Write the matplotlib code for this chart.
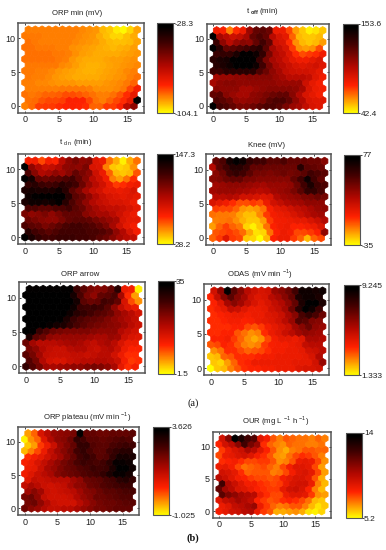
import matplotlib
matplotlib.use("Agg")
import matplotlib.pyplot as plt
from matplotlib.collections import PolyCollection
from matplotlib.colors import LinearSegmentedColormap
import numpy as np

plt.rcParams['font.family'] = ['Liberation Sans', 'DejaVu Sans']
plt.rcParams['mathtext.fontset'] = 'custom'
plt.rcParams['mathtext.rm'] = 'Liberation Sans'
plt.rcParams['mathtext.bf'] = 'Liberation Sans:bold'

W, H = 386, 550

# Component planes: 0 (yellow) .. 100 (black); rows listed top to bottom, 17 columns, 14 rows
orp_min = [
 [18,18,18,18,18,18,18,18,17,16,15,10,8,3,1,6,13],
 [19,19,19,18,18,18,18,18,17,16,15,12,9,6,6,9,12],
 [20,19,18,18,18,18,18,17,16,15,14,12,10,9,9,10,13],
 [20,20,19,19,19,18,18,16,15,14,13,12,11,10,11,12,14],
 [20,20,20,20,19,19,18,16,14,13,12,12,12,12,13,14,15],
 [20,20,20,20,20,19,18,15,13,12,12,12,13,14,14,15,16],
 [19,19,19,19,19,17,16,14,12,11,11,12,13,14,15,16,17],
 [19,19,18,18,17,15,14,13,12,11,11,12,13,14,15,17,18],
 [19,18,18,17,15,14,13,12,12,12,12,13,14,15,16,18,20],
 [18,18,17,17,16,15,15,15,14,14,14,14,15,16,17,19,22],
 [18,18,18,18,18,19,19,19,19,18,16,16,16,17,19,26,34],
 [20,19,20,22,22,23,25,25,24,22,20,18,18,20,24,30,38],
 [20,21,24,26,26,27,32,32,32,26,20,18,22,26,30,38,98],
 [18,21,27,28,28,30,31,32,31,30,22,22,28,27,32,50,60],
]
t_off = [
 [35,33,18,30,36,58,70,72,68,36,36,26,14,8,2,4,8],
 [98,55,50,45,48,55,70,75,70,50,42,38,22,10,8,8,10],
 [80,60,50,58,62,60,70,78,70,45,42,30,16,10,8,10,14],
 [98,85,70,72,75,78,82,85,72,55,48,42,28,16,14,16,25],
 [80,82,82,88,95,95,92,82,65,52,48,40,30,25,28,30,35],
 [85,88,90,95,98,97,95,80,65,55,50,44,38,35,35,38,42],
 [85,88,92,96,98,96,92,78,65,55,50,46,42,40,42,44,40],
 [80,80,85,85,85,85,85,75,68,60,55,48,45,44,44,42,38],
 [55,58,58,60,60,62,62,62,62,58,55,50,50,50,48,40,35],
 [55,60,62,62,60,60,60,60,60,60,58,58,58,58,45,38,34],
 [62,60,60,60,55,55,58,60,62,62,62,62,60,55,42,36,34],
 [70,72,62,58,55,55,60,62,65,68,70,70,62,52,42,38,34],
 [75,72,68,60,58,60,62,65,72,75,75,70,60,52,42,40,40],
 [98,78,75,70,65,65,68,72,75,75,72,65,58,55,48,42,40],
]
t_dn = [
 [34,35,26,34,32,50,60,65,60,62,40,36,20,12,2,12,20],
 [98,60,52,46,48,52,60,62,60,65,42,40,18,8,6,8,16],
 [75,62,52,55,60,56,62,70,65,60,45,36,22,10,8,10,24],
 [98,90,70,68,70,72,75,78,70,62,50,44,35,18,14,20,30],
 [82,85,80,78,80,85,82,78,68,58,50,44,36,28,30,34,36],
 [88,90,88,88,88,92,85,72,65,55,48,44,38,38,36,38,42],
 [92,95,98,98,98,98,85,72,68,60,52,46,42,40,38,40,38],
 [88,92,92,90,92,95,85,75,68,60,52,48,45,42,42,40,36],
 [75,75,72,72,75,75,78,72,68,60,55,50,48,48,45,42,38],
 [65,60,62,65,60,65,70,70,70,62,58,55,55,50,45,40,36],
 [68,65,62,60,60,65,70,72,72,70,66,62,58,55,42,38,38],
 [75,72,70,65,68,72,76,78,78,76,74,70,65,55,45,38,34],
 [85,78,75,72,75,78,78,78,78,76,76,74,70,60,52,42,34],
 [98,88,82,78,78,80,80,80,78,78,76,72,68,62,55,50,48],
]
knee = [
 [70,75,90,95,92,82,78,78,72,72,75,70,70,70,68,68,62],
 [52,72,78,85,85,80,70,70,68,68,68,68,68,85,72,70,68],
 [62,68,78,82,78,72,66,66,64,66,68,66,68,72,78,75,72],
 [62,64,68,70,70,65,64,62,62,62,62,62,70,78,92,78,70],
 [56,58,60,60,60,58,56,55,58,58,58,60,68,78,88,78,75],
 [56,58,58,58,56,55,52,50,52,56,58,60,65,72,82,82,76],
 [50,50,52,50,44,44,42,40,42,52,56,58,60,64,65,68,66],
 [42,38,35,30,25,25,28,26,36,44,48,52,55,56,60,60,60],
 [27,26,26,22,15,13,15,20,33,38,40,44,48,50,54,58,60],
 [20,19,19,18,13,9,9,17,28,34,36,38,42,46,50,54,56],
 [18,19,20,16,11,8,8,14,28,34,35,36,38,38,42,46,52],
 [14,22,27,22,19,6,2,8,20,32,35,36,32,32,34,36,42],
 [24,26,28,25,21,12,4,6,20,32,36,34,26,26,28,32,60],
 [22,28,40,28,26,8,6,0,10,32,36,36,28,22,10,22,26],
]
orp_arrow = [
 [95,95,95,95,95,95,95,80,72,65,62,64,70,85,36,34,2],
 [98,98,98,98,98,98,98,90,76,65,60,70,72,76,55,30,14],
 [98,98,98,98,98,98,98,90,72,68,70,78,76,70,42,25,16],
 [98,98,98,98,98,98,98,92,80,78,80,78,72,60,48,40,36],
 [98,98,98,98,98,98,92,85,82,78,74,72,68,60,55,50,44],
 [98,98,98,98,98,95,88,80,75,72,70,68,64,60,56,52,48],
 [98,98,98,94,90,88,82,76,72,68,66,64,62,60,56,50,46],
 [98,95,80,74,68,66,64,64,64,64,62,60,60,60,52,48,44],
 [88,72,68,60,58,58,58,58,58,56,54,54,58,56,46,42,40],
 [68,56,50,50,50,52,54,56,54,50,48,52,55,50,42,36,36],
 [65,60,52,48,46,46,50,52,52,48,46,50,52,46,36,32,32],
 [72,66,56,48,46,46,46,48,48,46,48,50,50,44,36,30,30],
 [74,66,52,44,42,42,46,48,50,50,52,52,50,46,34,28,30],
 [82,74,66,56,54,56,58,60,60,64,66,64,60,54,38,30,34],
]
odas = [
 [44,60,95,72,62,50,45,42,44,58,62,68,78,92,92,90,92],
 [32,48,62,72,62,55,45,40,42,50,55,62,70,88,92,92,88],
 [32,40,55,62,56,48,42,38,42,48,52,60,70,88,96,96,88],
 [30,34,38,48,46,40,36,36,38,44,48,55,68,85,96,92,80],
 [30,32,34,36,36,34,36,36,40,42,46,54,62,76,82,76,68],
 [30,30,32,34,34,32,33,36,38,40,44,50,58,74,72,64,62],
 [30,30,30,32,32,26,24,28,34,38,42,46,56,62,68,60,58],
 [30,30,32,32,24,20,16,18,30,36,40,46,50,56,60,58,56],
 [32,32,34,28,22,16,12,16,26,34,38,38,36,40,54,54,52],
 [24,26,32,30,24,18,16,18,28,33,34,34,36,38,48,50,50],
 [16,20,30,30,26,22,24,26,30,34,34,36,36,38,44,46,50],
 [8,10,22,24,30,30,30,32,34,34,36,36,36,36,38,42,52],
 [8,6,14,22,30,32,36,36,36,36,36,36,38,38,38,44,58],
 [0,8,10,18,24,30,32,32,34,34,36,36,36,40,42,42,44],
]
orp_plateau = [
 [14,22,42,50,58,60,62,66,95,70,70,68,68,70,70,70,72],
 [2,16,22,40,52,60,62,68,82,78,72,72,70,72,74,76,74],
 [8,14,28,36,46,58,64,70,82,82,74,72,72,76,78,80,78],
 [10,18,26,36,48,56,62,68,78,82,76,72,72,78,82,85,85],
 [30,34,38,44,50,56,64,70,78,82,78,72,74,82,90,90,88],
 [33,36,42,48,54,60,66,70,76,80,78,76,78,84,94,94,92],
 [36,38,46,54,58,64,68,70,74,76,80,78,80,88,96,96,92],
 [35,40,46,50,54,62,66,68,70,74,76,78,82,88,94,94,90],
 [40,48,46,48,50,50,50,56,60,68,70,72,76,78,84,86,82],
 [48,54,50,46,44,46,48,54,60,62,68,70,74,76,78,80,80],
 [56,62,56,46,44,46,48,50,56,62,64,68,72,72,74,76,76],
 [66,68,60,48,44,44,44,46,52,58,62,68,68,70,72,74,74],
 [66,68,60,52,46,44,44,44,50,56,62,66,68,68,70,72,72],
 [68,62,58,52,48,48,50,50,54,58,62,66,66,68,70,70,70],
]
our = [
 [44,62,98,88,78,74,40,34,24,18,24,22,20,20,18,22,18],
 [32,44,50,62,78,66,58,30,22,18,16,22,20,20,18,18,20],
 [28,36,42,46,54,50,40,32,24,16,12,18,20,24,24,22,22],
 [26,36,38,42,44,40,34,30,24,16,14,20,26,30,28,24,18],
 [30,32,34,30,26,26,28,28,24,16,18,24,36,38,36,26,16],
 [36,38,34,26,20,22,24,26,22,18,26,34,40,40,38,26,14],
 [44,42,38,30,22,24,24,24,18,20,26,34,40,42,38,26,14],
 [50,46,40,34,32,28,26,26,24,26,34,38,42,42,38,24,12],
 [78,52,46,40,34,34,30,28,26,28,36,42,44,44,36,18,10],
 [70,56,50,42,40,36,32,30,28,28,38,44,46,42,32,18,10],
 [72,64,60,55,52,50,36,30,26,26,36,40,40,38,28,16,14],
 [40,48,50,56,52,48,32,28,24,26,30,32,30,26,20,10,8],
 [36,40,48,50,54,58,36,28,22,18,20,24,24,18,10,4,8],
 [34,38,44,46,50,52,36,28,24,12,12,14,16,12,4,2,6],
]

planes = [orp_min, t_off, t_dn, knee, orp_arrow, odas, orp_plateau, our]
titles = ["ORP min (mV)", r"$\mathrm{t}_{\ \mathbf{off}}$ (min)", r"$\mathrm{t}_{\ \mathrm{d\ n}}$ (min)", "Knee (mV)",
          "ORP arrow", r"ODAS (mV min $^{-1}$)", r"ORP plateau (mV min $^{-1}$)", r"OUR (mg L $^{-1}$ h $^{-1}$)"]
cb_top = ["-28.3", "153.6", "147.3", "77", "35", "9.245", "3.626", "14"]
cb_bot = ["-104.1", "42.4", "28.2", "-35", "1.5", "1.333", "-1.025", "5.2"]

# pixel boxes: left, right, top, bottom
ax_boxes = [(18.3,144,23,112.7),(206.7,329.3,23.7,112.7),(18.3,143.7,154,244),(206,331.3,154.3,244.7),
            (19.3,145.3,282.3,373.3),(204,329.3,284,375),(18.3,139,426.7,515),(212.7,331.3,432,517.7)]
cb_boxes = [(156.7,172.7,23,113),(342.7,358.3,24,113),(156.7,172.7,154.3,244.3),(344.3,360,154.7,245),
            (158,174,281.3,373.7),(344,359.3,285,375.3),(153.3,169.3,426.7,515.3),(345.7,362,432.7,518.3)]
title_y = [13.5, 11.5, 143, 145.5, 274, 274.5, 417, 421]
title_x = [77, 262, 76, 267, 80, 260, 87, 276]

cmap = LinearSegmentedColormap.from_list("rhot", [(0,(1,1,0)),(0.15,(1,0.58,0)),(0.31,(1,0.13,0)),
                                                  (0.52,(0.7,0.03,0)),(0.78,(0.25,0,0)),(0.96,(0,0,0)),(1,(0,0,0))])

def rect(b):
    l, r, t, bt = b
    return [l/W, 1-bt/H, (r-l)/W, (bt-t)/H]

fig = plt.figure(figsize=(W/100, H/100), dpi=100)
GRAY = "#555555"

hx = np.array([0.5,0.5,0,-0.5,-0.5,0])
hy = np.array([-0.2887,0.2887,0.5774,0.2887,-0.2887,-0.5774])

for i, plane in enumerate(planes):
    ax = fig.add_axes(rect(ax_boxes[i]))
    arr = np.array(plane, dtype=float)[::-1]
    polys, vals = [], []
    for row in range(arr.shape[0]):
        for col in range(arr.shape[1]):
            cx = col + (0.5 if row % 2 else 0)
            cy = row*0.866
            polys.append(np.column_stack([cx+hx, cy+hy]))
            vals.append(arr[row, col])
    pc = PolyCollection(polys, array=np.array(vals), cmap=cmap, edgecolors='face', linewidths=0.55)
    pc.set_clim(0, 100)
    ax.add_collection(pc)
    ax.set_xlim(-1, 17.5)
    ax.set_ylim(-1, 12.26)
    ax.set_xticks([0,5,10,15])
    ax.set_yticks([0,5,10])
    ax.tick_params(direction='in', length=1.5, width=0.6, top=True, right=True, labelsize=6.5, pad=2,
                   color="#222222", labelcolor="#222222")
    for s in ax.spines.values():
        s.set_linewidth(1.1); s.set_color(GRAY)
    fig.text(title_x[i]/W, 1-title_y[i]/H, titles[i], fontsize=5.6, ha='center', va='center', color="#222222")

    cax = fig.add_axes(rect(cb_boxes[i]))
    cb = fig.colorbar(pc, cax=cax)
    cb.set_ticks([0,100])
    cb.set_ticklabels([cb_bot[i], cb_top[i]])
    cb.outline.set_linewidth(0.8); cb.outline.set_edgecolor(GRAY)
    cax.tick_params(length=1.2, width=0.6, labelsize=6, pad=0.3, color="#222222", labelcolor="#222222")

fig.text(193/W, 1-403/H, "(a)", family="Liberation Serif", fontsize=7.5, ha='center', va='center', color="#111111")
fig.text(193/W, 1-538/H, "(b)", family="Liberation Serif", fontsize=7.5, fontweight='bold', ha='center', va='center', color="#111111")

fig.savefig("out.png", dpi=100)
